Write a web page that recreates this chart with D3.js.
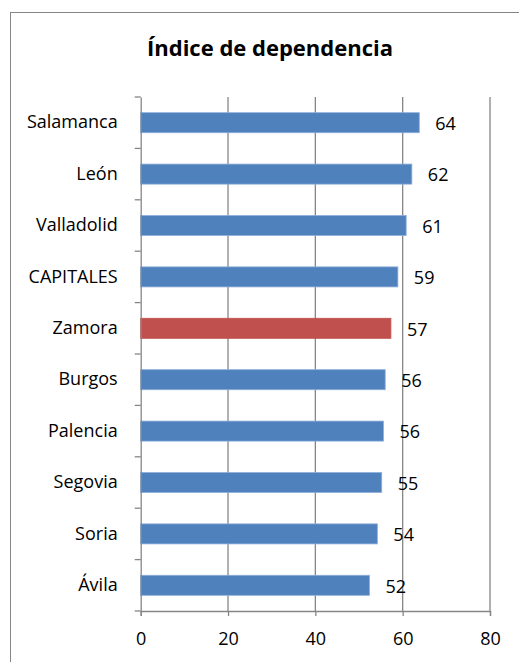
<!DOCTYPE html>
<html><head><meta charset="utf-8">
<script src="https://cdn.jsdelivr.net/npm/d3@7"></script>
<style>body{margin:0;background:#fff}svg{display:block}text{font-family:"Open Sans",sans-serif}</style>
</head><body>
<script>
const categories = ["Salamanca","León","Valladolid","CAPITALES","Zamora","Burgos","Palencia","Segovia","Soria","Ávila"];
const values = [63.8,62.1,60.8,58.9,57.3,56.0,55.6,55.2,54.2,52.4];
const labels = ["64","62","61","59","57","56","56","55","54","52"];
const highlight = "Zamora";
const xTicks = [0,20,40,60,80];

const W=519,H=662;
const svg=d3.select("body").append("svg").attr("width",W).attr("height",H);
svg.append("rect").attr("x",10.5).attr("y",12.5).attr("width",W).attr("height",H)
  .attr("fill","#fff").attr("stroke","#868686").attr("stroke-width",1);

const pL=140.7,pR=490,pT=97,pB=611;
const x=d3.scaleLinear().domain([0,80]).range([pL,pR]);
const y=d3.scaleBand().domain(categories).range([pT,pB]).paddingInner(0.61).paddingOuter(0.305);

svg.append("text").attr("x",270).attr("y",56).attr("text-anchor","middle")
  .attr("font-size",22).attr("font-weight","bold").text("Índice de dependencia");

// gridlines
svg.append("g").selectAll("line").data(xTicks.slice(1)).join("line")
  .attr("x1",d=>x(d)).attr("x2",d=>x(d)).attr("y1",pT).attr("y2",pB)
  .attr("stroke","#868686").attr("stroke-width",1.3);

// bars
svg.append("g").selectAll("rect").data(categories).join("rect")
  .attr("x",x(0)).attr("y",d=>y(d)).attr("height",y.bandwidth())
  .attr("width",(d,i)=>x(values[i])-x(0))
  .attr("fill",d=>d===highlight?"#C0504D":"#4F81BD")
  .attr("stroke",d=>d===highlight?"#C0504D":"#8EAEDB").attr("stroke-width",0.8);

// value labels
svg.append("g").selectAll("text").data(categories).join("text")
  .attr("x",(d,i)=>x(values[i])+16).attr("y",d=>y(d)+y.bandwidth()/2)
  .attr("dy","0.4em").attr("font-size",18).attr("fill","#000")
  .text((d,i)=>labels[i]);

// x axis
const xa=svg.append("g").attr("transform",`translate(0,${pB})`)
  .call(d3.axisBottom(x).tickValues(xTicks).tickSize(5).tickPadding(16));
xa.select(".domain").attr("stroke","#868686").attr("stroke-width",1.3);
xa.selectAll(".tick line").attr("stroke","#868686").attr("stroke-width",1.3);
xa.selectAll("text").attr("font-size",18).attr("font-family","Open Sans").attr("fill","#000");

// y axis
const ya=svg.append("g").attr("transform",`translate(${pL},0)`)
  .call(d3.axisLeft(y).tickSize(0).tickPadding(23));
ya.select(".domain").attr("stroke","#868686").attr("stroke-width",1.3);
ya.selectAll("text").attr("font-size",18).attr("font-family","Open Sans").attr("fill","#000");
// category boundary ticks
const step=(pB-pT)/categories.length;
svg.append("g").selectAll("line").data(d3.range(categories.length+1)).join("line")
  .attr("x1",pL-6).attr("x2",pL).attr("y1",d=>pT+d*step).attr("y2",d=>pT+d*step)
  .attr("stroke","#868686").attr("stroke-width",1.3);
</script>
</body></html>
